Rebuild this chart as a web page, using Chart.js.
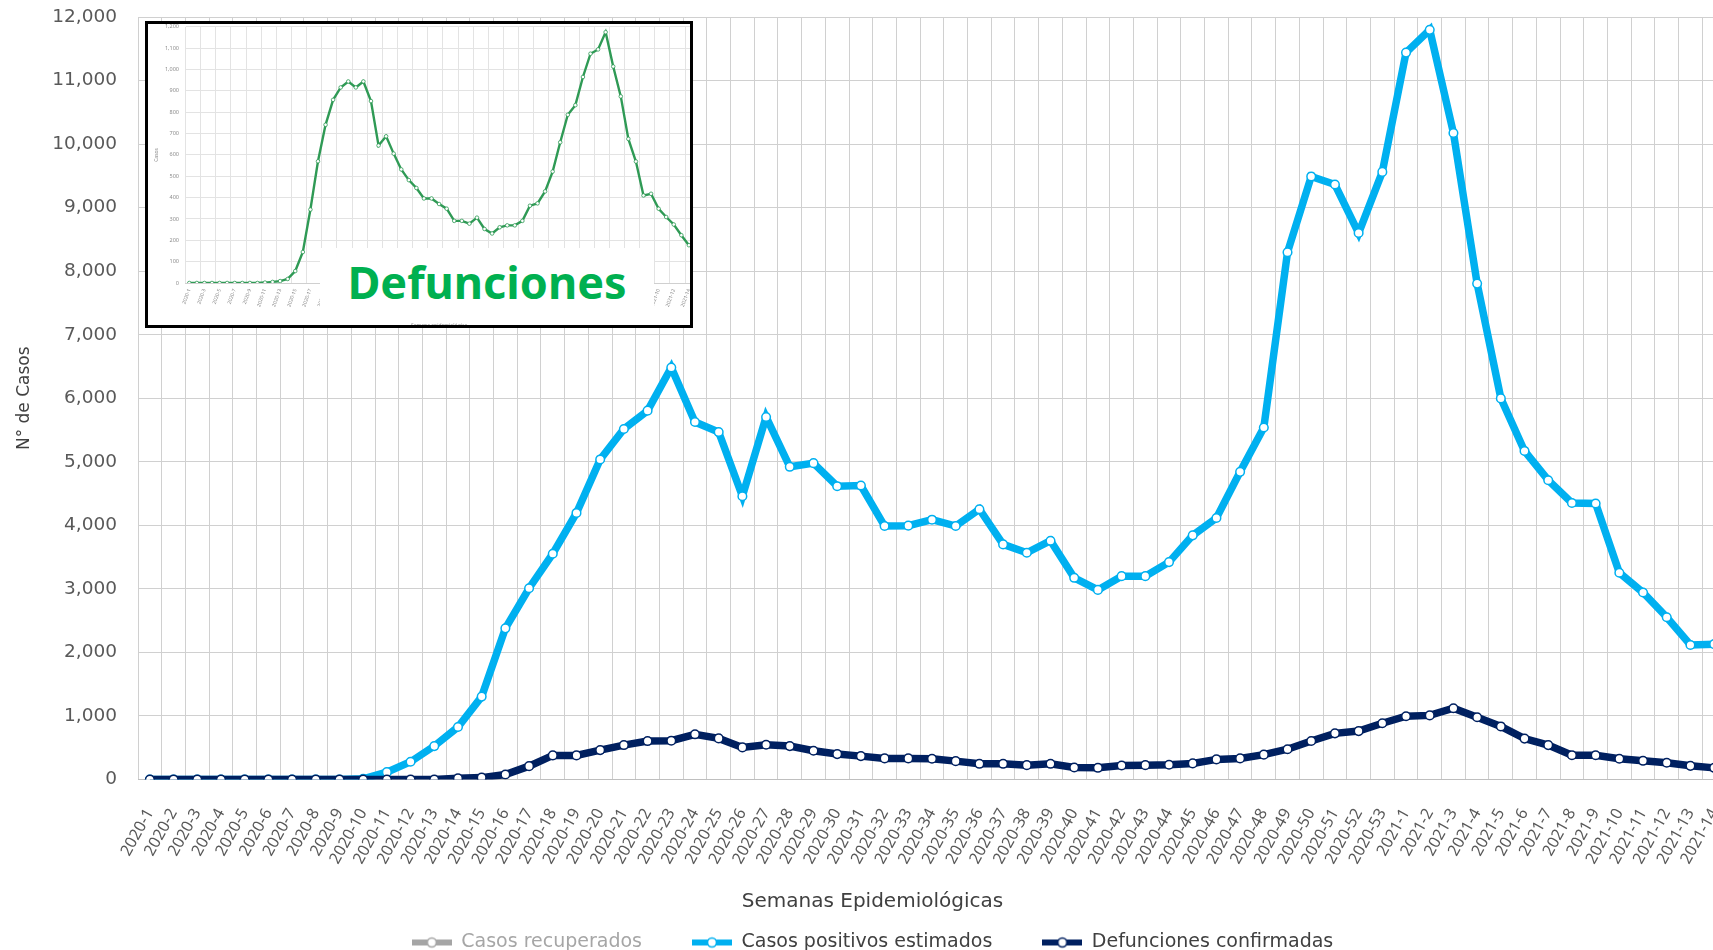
<!DOCTYPE html>
<html>
<head>
<meta charset="utf-8">
<script src="https://cdn.jsdelivr.net/npm/chart.js@4.4.1/dist/chart.umd.min.js"></script>
<style>
  html, body { margin: 0; padding: 0; background: #fff; overflow: hidden; }
  #wrap { position: relative; width: 1713px; height: 950px; overflow: hidden; }
  #main { position: absolute; left: 0; top: 0; }
  #recuadro { position: absolute; left: 145px; top: 21px; width: 548px; height: 307px; box-sizing: border-box;
              border: 3px solid #000; background: #fff; overflow: hidden; }
  #inset { position: absolute; left: 0; top: -2px; }
  #etiqueta { position: absolute; left: 172px; top: 223.5px; width: 334px; height: 68px; background: #fff;
              color: #00B050; font: bold 45px 'Noto Sans', sans-serif; line-height: 68px; text-align: center; }
</style>
</head>
<body>
<div id="wrap">
  <canvas id="main" width="1745" height="962"></canvas>
  <div id="recuadro">
    <canvas id="inset" width="560" height="308"></canvas>
    <div id="etiqueta">Defunciones</div>
  </div>
</div>
<script>
const semanas = [
  '2020-1', '2020-2', '2020-3', '2020-4', '2020-5', '2020-6', '2020-7', '2020-8', '2020-9', '2020-10',
  '2020-11', '2020-12', '2020-13', '2020-14', '2020-15', '2020-16', '2020-17', '2020-18', '2020-19', '2020-20',
  '2020-21', '2020-22', '2020-23', '2020-24', '2020-25', '2020-26', '2020-27', '2020-28', '2020-29', '2020-30',
  '2020-31', '2020-32', '2020-33', '2020-34', '2020-35', '2020-36', '2020-37', '2020-38', '2020-39', '2020-40',
  '2020-41', '2020-42', '2020-43', '2020-44', '2020-45', '2020-46', '2020-47', '2020-48', '2020-49', '2020-50',
  '2020-51', '2020-52', '2020-53', '2021-1', '2021-2', '2021-3', '2021-4', '2021-5', '2021-6', '2021-7',
  '2021-8', '2021-9', '2021-10', '2021-11', '2021-12', '2021-13', '2021-14'
]

const casosRecuperados = []

const casosPositivos = [
  0, 0, 0, 0, 0, 0, 0, 0, 0, 10,
  116, 279, 526, 826, 1305, 2379, 3010, 3553, 4195, 5037,
  5516, 5805, 6484, 5626, 5468, 4458, 5705, 4921, 4979, 4616,
  4626, 3989, 3995, 4089, 3989, 4253, 3700, 3568, 3758, 3174,
  2984, 3200, 3200, 3421, 3842, 4116, 4842, 5540, 8298, 9491,
  9364, 8600, 9562, 11440, 11798, 10175, 7804, 5998, 5171, 4710,
  4352, 4344, 3254, 2943, 2554, 2116, 2130
]

const defuncionesConfirmadas = [
  0, 0, 0, 0, 0, 0, 0, 0, 0, 0,
  0, 0, 0, 20, 30, 79, 210, 379, 379, 463,
  542, 605, 611, 711, 647, 505, 547, 526, 453, 400,
  368, 332, 332, 326, 289, 247, 247, 226, 247, 189,
  184, 221, 226, 232, 253, 316, 332, 391, 476, 606,
  726, 762, 885, 995, 1009, 1122, 979, 835, 644, 541,
  382, 382, 326, 294, 263, 215, 183
]

// serie del recuadro "Defunciones"
const defuncionesRecuadro = [
  0, 0, 0, 0, 0, 0, 0, 0, 0, 0,
  2, 5, 9, 19, 56, 145, 344, 570, 741, 858,
  916, 944, 916, 944, 852, 644, 687, 606, 532, 482,
  445, 396, 396, 370, 348, 291, 291, 278, 306, 253,
  232, 261, 270, 270, 291, 362, 373, 429, 522, 659,
  788, 833, 965, 1074, 1094, 1175, 1014, 874, 675, 569,
  410, 418, 348, 309, 274, 224, 177
]

const ticksCasos = [0, 1000, 2000, 3000, 4000, 5000, 6000, 7000, 8000, 9000, 10000, 11000, 12000]
const ticksRecuadro = [0, 100, 200, 300, 400, 500, 600, 700, 800, 900, 1000, 1100, 1200]

const fuente = 'DejaVu Sans'
const colores = ['#A5A5A5', '#00B0F0', '#002060']
const gris = '#D0D0D0'

function iconoLeyenda(color) {
  const c = document.createElement('canvas')
  c.width = 40
  c.height = 14
  const g = c.getContext('2d')
  g.fillStyle = color
  g.fillRect(0, 4, 40, 6)
  g.beginPath()
  g.arc(20, 7, 4.5, 0, Math.PI * 2)
  g.fillStyle = '#fff'
  g.fill()
  g.lineWidth = 1.6
  g.strokeStyle = color
  g.stroke()
  return c
}
const iconos = colores.map(iconoLeyenda)

function serie(label, data, color, order) {
  return {
    label, data, order,
    borderColor: color,
    backgroundColor: color,
    borderWidth: 7.5,
    tension: 0,
    pointRadius: 4.3,
    pointHoverRadius: 4.3,
    pointBackgroundColor: '#fff',
    pointBorderColor: color,
    pointBorderWidth: 1.5
  }
}

const principal = new Chart(document.getElementById('main').getContext('2d'), {
  type: 'line',
  data: {
    labels: semanas,
    datasets: [
      serie('Casos recuperados', casosRecuperados, colores[0], 2),
      serie('Casos positivos estimados', casosPositivos, colores[1], 1),
      serie('Defunciones confirmadas', defuncionesConfirmadas, colores[2], 0)
    ]
  },
  options: {
    responsive: false,
    animation: false,
    devicePixelRatio: 1,
    locale: 'en-US',
    layout: { padding: { top: 17, left: 0, right: 0, bottom: 0 } },
    plugins: {
      tooltip: { enabled: false },
      legend: {
        position: 'bottom',
        labels: {
          usePointStyle: true,
          pointStyleWidth: 40,
          padding: 50,
          font: { family: fuente, size: 19 },
          generateLabels: chart => chart.data.datasets.map((ds, i) => ({
            text: ds.label,
            fontColor: i === 0 ? '#A6A6A6' : '#404040',
            pointStyle: iconos[i],
            hidden: false,
            datasetIndex: i,
            lineWidth: 0,
            strokeStyle: 'transparent',
            fillStyle: 'transparent'
          }))
        },
        title: {
          display: true,
          text: 'Semanas Epidemiológicas',
          color: '#404040',
          font: { family: fuente, size: 20 },
          padding: { top: 9, bottom: -32.5 }
        }
      }
    },
    scales: {
      x: {
        offset: true,
        grid: { offset: true, color: gris, drawTicks: false },
        border: { color: '#BFBFBF' },
        ticks: {
          autoSkip: false,
          minRotation: 61,
          maxRotation: 61,
          padding: 26,
          color: '#595959',
          font: { family: 'Noto Sans', size: 16 }
        },
        afterFit: s => { s.height = 103; s.paddingLeft = 0; s.paddingRight = 19 }
      },
      y: {
        min: 0,
        max: 12000,
        afterBuildTicks: s => { s.ticks = ticksCasos.map(v => ({ value: v })) },
        grid: { color: gris, drawTicks: false },
        border: { display: false },
        ticks: {
          padding: 21,
          color: '#595959',
          font: { family: fuente, size: 18.5 },
          callback: v => v.toLocaleString('en-US')
        },
        title: {
          display: true,
          text: 'N° de Casos',
          color: '#404040',
          font: { family: fuente, size: 17 },
          padding: { top: 14, bottom: 0 }
        },
        afterFit: s => { s.width = 138; s.paddingTop = 0; s.paddingBottom = 0 }
      }
    }
  }
})

const recuadro = new Chart(document.getElementById('inset').getContext('2d'), {
  type: 'line',
  data: {
    labels: semanas,
    datasets: [{
      label: 'Defunciones',
      data: defuncionesRecuadro,
      borderColor: '#2F9A55',
      backgroundColor: '#2F9A55',
      borderWidth: 2.4,
      tension: 0,
      pointRadius: 1.8,
      pointBackgroundColor: '#fff',
      pointBorderColor: '#2F9A55',
      pointBorderWidth: 0.8
    }]
  },
  options: {
    responsive: false,
    animation: false,
    devicePixelRatio: 1,
    locale: 'en-US',
    layout: { padding: { top: 3.7, left: 0, right: 0, bottom: 0 } },
    plugins: { legend: { display: false }, tooltip: { enabled: false } },
    scales: {
      x: {
        offset: true,
        grid: {
          offset: true,
          drawTicks: false,
          color: c => (c.index % 2 === 0 ? '#E3E3E3' : 'rgba(0,0,0,0)')
        },
        border: { color: '#D0D0D0' },
        ticks: {
          autoSkip: false,
          minRotation: 70,
          maxRotation: 70,
          padding: 5,
          color: '#8C8C8C',
          font: { family: 'Noto Sans', size: 5 },
          callback: function (v, i) { return i % 2 === 0 ? this.getLabelForValue(v) : '' }
        },
        title: {
          display: true,
          text: 'Semana epidemiológica',
          color: '#8C8C8C',
          font: { family: 'Noto Sans', size: 5 },
          padding: { top: 0, bottom: 1.7 }
        },
        afterFit: s => { s.height = 47; s.paddingLeft = 0; s.paddingRight = 15.3 }
      },
      y: {
        min: 0,
        max: 1200,
        afterBuildTicks: s => { s.ticks = ticksRecuadro.map(v => ({ value: v })) },
        grid: { color: '#E3E3E3', drawTicks: false },
        border: { display: false },
        ticks: {
          padding: 6.5,
          color: '#8C8C8C',
          font: { family: 'Noto Sans', size: 5.5 },
          callback: v => v.toLocaleString('en-US')
        },
        title: {
          display: true,
          text: 'Casos',
          color: '#8C8C8C',
          font: { family: 'Noto Sans', size: 5 },
          padding: { top: 6, bottom: 0 }
        },
        afterFit: s => { s.width = 37.5; s.paddingTop = 0; s.paddingBottom = 0 }
      }
    }
  }
})
</script>
</body>
</html>
